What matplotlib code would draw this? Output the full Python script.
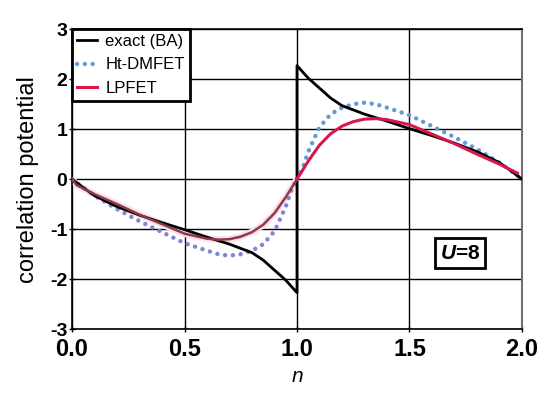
import matplotlib
matplotlib.use('Agg')
import matplotlib.pyplot as plt
import numpy as np

plt.rcParams['font.family'] = ['Liberation Sans', 'DejaVu Sans']
plt.rcParams['mathtext.fontset'] = 'custom'
plt.rcParams['mathtext.rm'] = 'Liberation Sans'
plt.rcParams['mathtext.it'] = 'Liberation Sans:italic'
plt.rcParams['mathtext.bf'] = 'Liberation Sans:bold'
plt.rcParams['mathtext.bfit'] = 'Liberation Sans:italic:bold'

# exact Bethe ansatz (jump at n=1)
n_exact = [0, 0.05, 0.1, 0.2, 0.3, 0.4, 0.5, 0.6, 0.7, 0.8, 0.85, 0.9, 0.95, 1.0,
           1.0, 1.05, 1.1, 1.15, 1.2, 1.3, 1.4, 1.5, 1.6, 1.7, 1.8, 1.9, 1.95, 2.0]
v_exact = [0, -0.17, -0.33, -0.55, -0.72, -0.87, -1.01, -1.16, -1.30, -1.47, -1.62, -1.82, -2.02, -2.27,
           2.27, 2.02, 1.82, 1.62, 1.47, 1.30, 1.16, 1.01, 0.87, 0.72, 0.55, 0.33, 0.17, 0]

# Ht-DMFET
n_ht = [0, 0.05, 0.1, 0.2, 0.3, 0.4, 0.5, 0.6, 0.65, 0.7, 0.75, 0.8, 0.85, 0.9, 0.95, 0.975, 1.0,
        1.025, 1.05, 1.1, 1.15, 1.2, 1.25, 1.3, 1.35, 1.4, 1.5, 1.6, 1.7, 1.8, 1.9, 1.95, 2.0]
v_ht = [0, -0.17, -0.33, -0.60, -0.84, -1.06, -1.28, -1.43, -1.50, -1.53, -1.50, -1.43, -1.30, -1.04, -0.55, -0.22, 0,
        0.22, 0.55, 1.04, 1.30, 1.43, 1.50, 1.53, 1.50, 1.43, 1.28, 1.06, 0.84, 0.60, 0.33, 0.17, 0]

# LPFET
n_lp = [0, 0.02, 0.1, 0.2, 0.3, 0.4, 0.5, 0.6, 0.65, 0.7, 0.75, 0.8, 0.85, 0.9, 0.95, 1.0,
        1.05, 1.1, 1.15, 1.2, 1.25, 1.3, 1.35, 1.4, 1.5, 1.6, 1.7, 1.8, 1.9, 1.98]
v_lp = [0, -0.12, -0.30, -0.50, -0.71, -0.90, -1.09, -1.19, -1.21, -1.20, -1.15, -1.06, -0.91, -0.68, -0.36, 0,
        0.36, 0.68, 0.91, 1.06, 1.15, 1.20, 1.21, 1.19, 1.09, 0.90, 0.71, 0.50, 0.30, 0.12]

xticks = [0.0, 0.5, 1.0, 1.5, 2.0]
yticks = [-3, -2, -1, 0, 1, 2, 3]

n_ht = np.array(n_ht); v_ht = np.array(v_ht)
n_lp = np.array(n_lp); v_lp = np.array(v_lp)

fig = plt.figure(figsize=(5.5, 3.99), dpi=100)
ax = fig.add_axes([0.131, 0.175, 0.818, 0.752])

ax.grid(True, color='black', linewidth=1.0)
ax.set_axisbelow(True)

dots = (0, (0.01, 1.75))
left = n_ht <= 1
right = n_ht >= 1
ax.plot(n_ht[left], v_ht[left], color='#8383d6', linestyle=dots, linewidth=3.2,
        dash_capstyle='round', zorder=3)
ht_line, = ax.plot(n_ht[right], v_ht[right], color='#5f9bd6', linestyle=dots, linewidth=3.2,
                   dash_capstyle='round', zorder=3)

ex_line, = ax.plot(n_exact, v_exact, color='black', linewidth=2.0, zorder=4)

lleft = n_lp <= 1
lright = n_lp >= 1
ax.plot(n_lp[lleft], v_lp[lleft], color='#fde0eb', linewidth=5, zorder=2.5, solid_capstyle='butt')
ax.plot(n_lp[lleft], v_lp[lleft], color='#8a3c48', linewidth=1.8, zorder=5)
lp_line, = ax.plot(n_lp[lright], v_lp[lright], color='#d8174c', linewidth=2.2, zorder=5)

ax.set_xlim(0, 2)
ax.set_ylim(-3, 3)
ax.set_xticks(xticks)
ax.set_xticklabels(['%.1f' % t for t in xticks], fontsize=17, fontweight='bold')
ax.set_yticks(yticks)
ax.set_yticklabels([str(t) for t in yticks], fontsize=14, fontweight='bold')
ax.tick_params(axis='both', direction='inout', length=5, width=1, color='black')
ax.tick_params(axis='x', pad=4)
ax.tick_params(axis='y', pad=1)

for s in ['left', 'bottom', 'top']:
    ax.spines[s].set_color('black')
    ax.spines[s].set_linewidth(1.2)
ax.spines['right'].set_color('#707070')
ax.spines['right'].set_linewidth(1.5)

ax.set_xlabel('$n$', fontsize=15, labelpad=4)
ax.set_ylabel('correlation potential', fontsize=17, labelpad=8)

leg = ax.legend([ex_line, ht_line, lp_line], ['exact (BA)', 'Ht-DMFET', 'LPFET'],
                loc='upper left', bbox_to_anchor=(0, 1), borderaxespad=0,
                fontsize=12, handlelength=1.2, handletextpad=0.5, labelspacing=0.5,
                fancybox=False, framealpha=1, edgecolor='black', borderpad=0.3)
leg.get_frame().set_linewidth(2)
leg.set_zorder(10)

ax.text(1.725, -1.48, r'$\mathbfit{U}$=8', fontsize=15, fontweight='bold', ha='center', va='center',
        bbox=dict(boxstyle='square,pad=0.25', facecolor='white', edgecolor='black', linewidth=2),
        zorder=8)

fig.savefig('out.png', dpi=100)
